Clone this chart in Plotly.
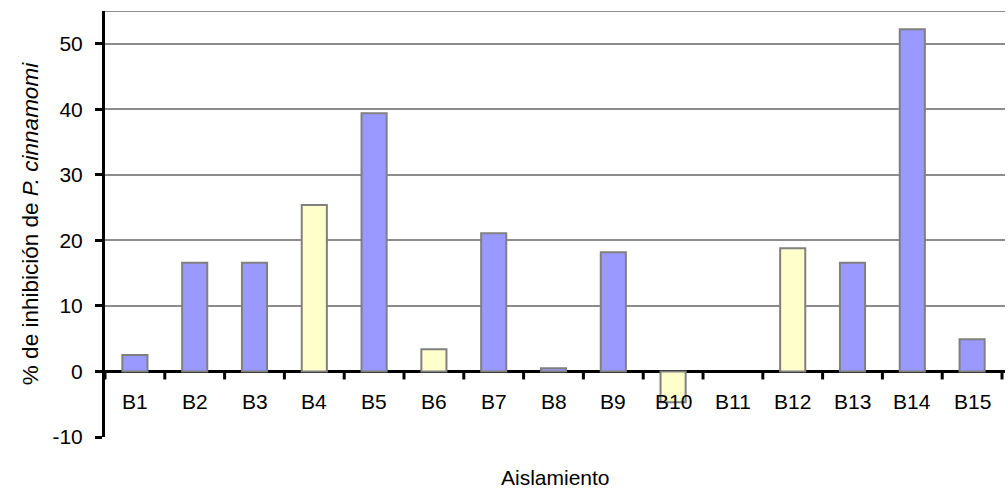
import plotly.graph_objects as go

# Inhibition of P. cinnamomi by each isolate (B11 has no bar)
aislamientos = ["B1", "B2", "B3", "B4", "B5", "B6", "B7", "B8",
                "B9", "B10", "B11", "B12", "B13", "B14", "B15"]
inhibicion = [2.5, 16.6, 16.6, 25.4, 39.4, 3.4, 21.1, 0.5,
              18.2, -4.7, None, 18.8, 16.6, 52.2, 4.9]
grupo = ["a", "a", "a", "b", "a", "b", "a", "a",
         "a", "b", "a", "b", "a", "a", "a"]

y_ticks = [-10, 0, 10, 20, 30, 40, 50]
y_ticktext = ["-10", "0", "10", "20", "30", "40", "50"]
y_top = 55

colores = {"a": "#9999FF", "b": "#FFFFCC"}
FONT = "Liberation Sans, Arial, sans-serif"

fig = go.Figure()
fig.add_trace(go.Bar(
    x=aislamientos,
    y=inhibicion,
    width=0.42,
    marker=dict(color=[colores[g] for g in grupo],
                line=dict(color="#808080", width=2)),
    hoverinfo="x+y",
))

shapes = []
# top border line of the plot area
shapes.append(dict(type="line", xref="paper", yref="y", x0=0, x1=1,
                   y0=y_top, y1=y_top, line=dict(color="#8c8c8c", width=2),
                   layer="below"))
# category boundary tick marks hanging below the zero axis
for i in range(len(aislamientos) + 1):
    shapes.append(dict(type="line", xref="x", yref="y",
                       x0=i - 0.5, x1=i - 0.5,
                       ysizemode="pixel", yanchor=0, y0=0, y1=-8,
                       line=dict(color="black", width=3)))

annotations = []
# category labels placed just below the zero axis
for cat in aislamientos:
    annotations.append(dict(x=cat, y=0, xref="x", yref="y", text=cat,
                            showarrow=False, yshift=-30,
                            font=dict(size=21, color="black", family=FONT)))
annotations.append(dict(x=0.5, y=-0.096, xref="paper", yref="paper",
                        yanchor="middle", text="Aislamiento", showarrow=False,
                        font=dict(size=21, color="black", family=FONT)))

fig.update_layout(
    width=1008, height=491,
    margin=dict(l=105, r=3, t=11, b=54),
    paper_bgcolor="white", plot_bgcolor="white",
    showlegend=False,
    bargap=0.58,
    font=dict(family=FONT, size=21, color="black"),
    shapes=shapes,
    annotations=annotations,
    xaxis=dict(showticklabels=False, showline=False, showgrid=False,
               zeroline=False, ticks="", range=[-0.5, len(aislamientos) - 0.45]),
    yaxis=dict(
        range=[-10, y_top], tickvals=y_ticks, ticktext=y_ticktext,
        ticks="outside", ticklen=7, tickwidth=3, tickcolor="black",
        ticklabelstandoff=8,
        showline=True, linewidth=3, linecolor="black",
        showgrid=True, gridcolor="#8c8c8c", gridwidth=2,
        zeroline=True, zerolinecolor="black", zerolinewidth=3,
        tickfont=dict(size=21, family=FONT),
        title=dict(text="% de inhibición de <i>P. cinnamomi</i>",
                   font=dict(size=22.5, family=FONT), standoff=8),
    ),
)

fig.write_html("out.html")
